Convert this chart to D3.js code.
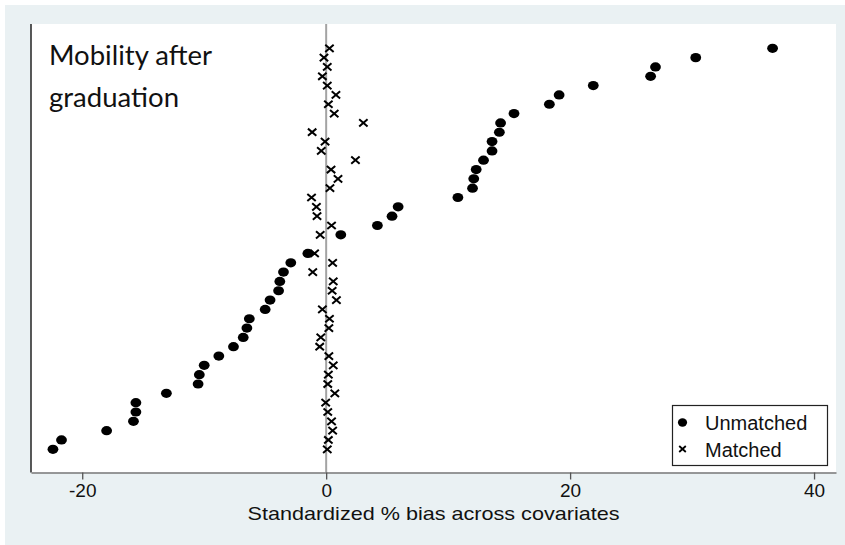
<!DOCTYPE html>
<html>
<head>
<meta charset="utf-8">
<script src="https://cdn.jsdelivr.net/npm/d3@7"></script>
<style>
  body { margin: 0; background: #ffffff; }
  svg { display: block; }
</style>
</head>
<body>
<div id="chart"></div>
<script>
// standardized % bias per covariate, top row first (row 21 is empty in the picture)
const unmatched = [36.6, 30.3, 27.0, 26.6, 21.9, 19.1, 18.3, 15.4, 14.3, 14.2,
                   13.6, 13.6, 12.9, 12.3, 12.1, 12.0, 10.8, 5.9, 5.4, 4.2,
                   1.2, null, -1.5, -2.9, -3.5, -3.8, -3.9, -4.6, -5.0, -6.3,
                   -6.5, -6.8, -7.6, -8.8, -10.0, -10.4, -10.5, -13.1, -15.6, -15.6,
                   -15.8, -18.0, -21.7, -22.4];
const matched = [0.27, -0.18, 0.09, -0.31, 0.09, 0.8, 0.18, 0.66, 3.05, -1.15,
                 -0.09, -0.4, 2.4, 0.4, 0.97, 0.31, -1.2, -0.8, -0.75, 0.44,
                 -0.49, null, -0.95, 0.53, -1.1, 0.58, 0.49, 0.84, -0.31, 0.27,
                 0.22, -0.44, -0.53, 0.22, 0.58, 0.18, 0.13, 0.71, -0.04, 0.13,
                 0.44, 0.53, 0.18, 0.09];
const xTicks = [-20, 0, 20, 40];
const seriesNames = ["Unmatched", "Matched"];
const titleLines = ["Mobility after", "graduation"];
const xTitle = "Standardized % bias across covariates";

const W = 845, H = 545;
const plot = { left: 31, right: 836, top: 24, bottom: 472.5 };

const svg = d3.select("#chart").append("svg")
    .attr("width", W)
    .attr("height", H);

// outer background
svg.append("rect")
   .attr("x", 5).attr("y", 5)
   .attr("width", W - 5).attr("height", H - 5)
   .attr("fill", "#eaf1f3");

svg.append("rect")
   .attr("x", plot.left).attr("y", plot.top)
   .attr("width", plot.right - plot.left).attr("height", plot.bottom - plot.top)
   .attr("fill", "#ffffff");

const x = d3.scaleLinear()
    .domain([-24.2, 41.8])
    .range([plot.left, plot.right]);

const y = d3.scaleLinear()
    .domain([0, unmatched.length - 1])
    .range([48.3, 449.3]);

// zero reference line
svg.append("line")
   .attr("x1", x(0)).attr("x2", x(0))
   .attr("y1", plot.top).attr("y2", plot.bottom)
   .attr("stroke", "#a3a3a3")
   .attr("stroke-width", 2);

// left axis line
svg.append("line")
   .attr("x1", plot.left).attr("x2", plot.left)
   .attr("y1", plot.top).attr("y2", plot.bottom)
   .attr("stroke", "#222")
   .attr("stroke-width", 1.5);

// x axis (plain hyphen for negatives, like the original)
const xAxis = svg.append("g")
   .attr("transform", `translate(0,${plot.bottom})`)
   .call(d3.axisBottom(x)
           .tickValues(xTicks)
           .tickFormat(d => String(d))
           .tickSize(7).tickSizeOuter(0).tickPadding(5));

xAxis.select(".domain")
     .attr("stroke", "#777")
     .attr("stroke-width", 1.5);
xAxis.selectAll(".tick line")
     .attr("stroke", "#555")
     .attr("stroke-width", 1.3);
xAxis.selectAll(".tick text")
     .attr("font-family", "Liberation Sans, Arial, sans-serif")
     .attr("font-size", 19)
     .attr("fill", "#111")
     .attr("dy", "0.85em")
     .attr("y", 8);

svg.append("text")
   .attr("x", (plot.left + plot.right) / 2)
   .attr("y", 520)
   .attr("text-anchor", "middle")
   .attr("font-family", "Liberation Sans, Arial, sans-serif")
   .attr("font-size", 19)
   .attr("fill", "#111")
   .attr("textLength", 372)
   .attr("lengthAdjust", "spacingAndGlyphs")
   .text(xTitle);

// title inside the plot
const titleWidths = [163, 130];
svg.selectAll(".title-line")
   .data(titleLines)
   .enter()
   .append("text")
   .attr("class", "title-line")
   .attr("x", 49)
   .attr("y", (d, i) => 65 + i * 42)
   .attr("font-family", "Lato, 'Open Sans', sans-serif")
   .attr("font-size", 26)
   .attr("fill", "#111")
   .attr("textLength", (d, i) => titleWidths[i])
   .attr("lengthAdjust", "spacingAndGlyphs")
   .text(d => d);

// unmatched dots
const rows = unmatched.map((v, i) => ({ i, u: v, m: matched[i] }));

svg.selectAll(".dot")
   .data(rows.filter(d => d.u !== null))
   .enter()
   .append("ellipse")
   .attr("class", "dot")
   .attr("cx", d => x(d.u))
   .attr("cy", d => y(d.i))
   .attr("rx", 5.4)
   .attr("ry", 4.6)
   .attr("fill", "#000");

// matched crosses
const cross = (cx, cy, hw, hh) =>
    `M${cx - hw},${cy - hh}L${cx + hw},${cy + hh}M${cx - hw},${cy + hh}L${cx + hw},${cy - hh}`;

svg.selectAll(".cross")
   .data(rows.filter(d => d.m !== null))
   .enter()
   .append("path")
   .attr("class", "cross")
   .attr("d", d => cross(x(d.m), y(d.i), 4.2, 3.6))
   .attr("stroke", "#000")
   .attr("stroke-width", 2)
   .attr("fill", "none");

// legend
const leg = svg.append("g");
leg.append("rect")
   .attr("x", 672.5).attr("y", 405.5)
   .attr("width", 155).attr("height", 60)
   .attr("fill", "#fff")
   .attr("stroke", "#222")
   .attr("stroke-width", 1.2);

leg.append("ellipse")
   .attr("cx", 682.5).attr("cy", 422.5)
   .attr("rx", 4.6).attr("ry", 4.2)
   .attr("fill", "#000");
leg.append("path")
   .attr("d", cross(682.5, 449, 3.3, 3))
   .attr("stroke", "#000")
   .attr("stroke-width", 1.8);

leg.selectAll(".leg-text")
   .data(seriesNames)
   .enter()
   .append("text")
   .attr("class", "leg-text")
   .attr("x", 705)
   .attr("y", (d, i) => 429.5 + i * 27)
   .attr("font-family", "Liberation Sans, Arial, sans-serif")
   .attr("font-size", 20)
   .attr("fill", "#111")
   .text(d => d);
</script>
</body>
</html>
